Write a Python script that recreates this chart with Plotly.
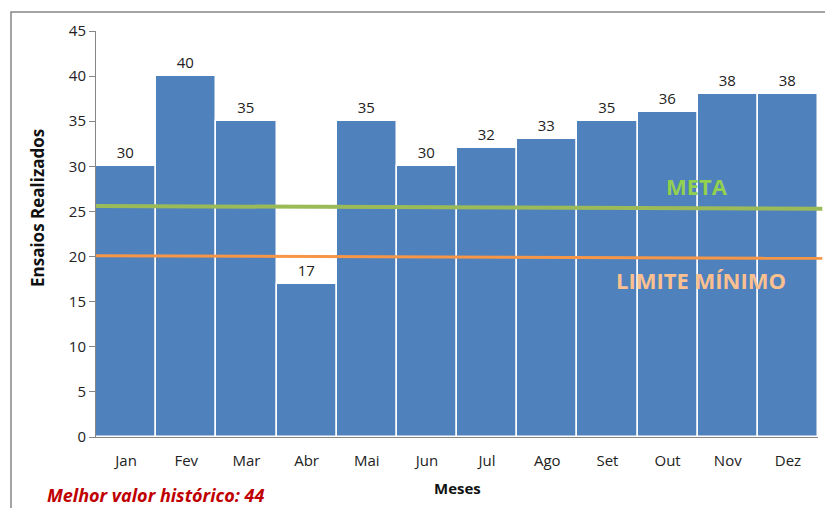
import plotly.graph_objects as go

# data
MESES = ["Jan", "Fev", "Mar", "Abr", "Mai", "Jun", "Jul", "Ago", "Set", "Out", "Nov", "Dez"]
ENSAIOS = [30, 40, 35, 17, 35, 30, 32, 33, 35, 36, 38, 38]
META = [25.6, 25.3]          # line drawn slightly tilted in the original
LIMITE_MINIMO = [20.1, 19.8]
Y_TICKS = list(range(0, 50, 5))

W, H = 825, 508
M_L, M_R, M_T, M_B = 96, 7, 31, 71
PLOT_W = W - M_L - M_R
PLOT_H = H - M_T - M_B

FONT = "Open Sans"
BAR_BLUE = "#4F81BD"
GREEN = "#9BBB59"
ORANGE = "#F79646"
GRAY = "#868686"


def px_to_paper_x(px):
    return (px - M_L) / PLOT_W


def px_to_paper_y(py):
    return (H - M_B - py) / PLOT_H


def label(text, px, py, size, color, **kw):
    return dict(text=text, x=px_to_paper_x(px), y=px_to_paper_y(py), xref="paper", yref="paper",
                xanchor=kw.pop("xanchor", "center"), yanchor="middle", showarrow=False,
                font=dict(family=FONT, size=size, color=color), **kw)


fig = go.Figure()
fig.add_trace(
    go.Bar(
        x=MESES,
        y=ENSAIOS,
        marker=dict(color=BAR_BLUE, line=dict(color="white", width=1.5)),
        text=ENSAIOS,
        textposition="outside",
        textfont=dict(family=FONT, size=15, color="#222"),
        cliponaxis=False,
        hovertemplate="%{x}: %{y}<extra></extra>",
    )
)

# meta / limite mínimo as lines across the plot
fig.add_shape(type="line", xref="paper", yref="y", x0=0, x1=1.006,
              y0=META[0], y1=META[1], line=dict(color=GREEN, width=4))
fig.add_shape(type="line", xref="paper", yref="y", x0=0, x1=1.006,
              y0=LIMITE_MINIMO[0], y1=LIMITE_MINIMO[1], line=dict(color=ORANGE, width=3))

# outer chart frame (only top and left visible)
fig.add_shape(type="rect", xref="paper", yref="paper",
              x0=px_to_paper_x(11), x1=px_to_paper_x(W + 20),
              y0=px_to_paper_y(H + 20), y1=px_to_paper_y(12),
              line=dict(color=GRAY, width=1.5), layer="below")

annotations = [
    label("<b>META</b>", 697, 186, 22, "#92D050"),
    label("<b>LIMITE MÍNIMO</b>", 701, 280, 22, "#FAC090"),
    label("<b><i>Melhor valor histórico: 44</i></b>", 45, 495, 18, "#C00000", xanchor="left"),
    label("<b>Meses</b>", 457, 488, 15, "#111"),
    label("<b>Ensaios Realizados</b>", 37, 208, 17, "#111", textangle=-90),
]

fig.update_layout(
    width=W,
    height=H,
    margin=dict(l=M_L, r=M_R, t=M_T, b=M_B, autoexpand=False),
    paper_bgcolor="white",
    plot_bgcolor="white",
    bargap=0,
    showlegend=False,
    annotations=annotations,
    font=dict(family=FONT, size=15, color="#222"),
)
fig.update_xaxes(
    showline=True, linecolor=GRAY, linewidth=1, ticks="outside", ticklen=10,
    tickcolor="rgba(0,0,0,0)", showgrid=False, automargin=False,
    tickfont=dict(family=FONT, size=15),
)
fig.update_yaxes(
    range=[0, 45], tickvals=Y_TICKS, showline=True, linecolor=GRAY, linewidth=1,
    ticks="outside", ticklen=6, tickcolor=GRAY, showgrid=False, zeroline=False,
    automargin=False, tickfont=dict(family=FONT, size=15),
)

fig.write_html(
    "out.html",
    config={"displayModeBar": False},
    post_script="document.body.style.margin='0';",
)
